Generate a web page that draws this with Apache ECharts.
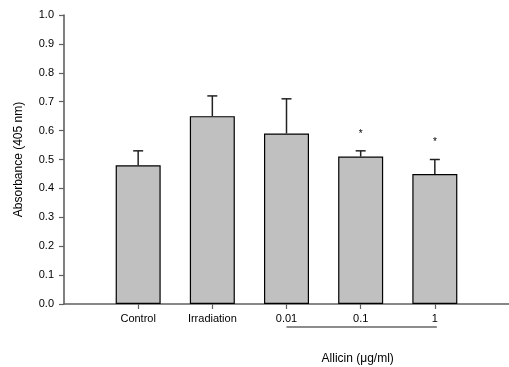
<!DOCTYPE html>
<html><head><meta charset="utf-8">
<script src="https://cdn.jsdelivr.net/npm/echarts@6/dist/echarts.min.js"></script>
<style>html,body{margin:0;padding:0;background:#fff}#c{width:509px;height:367px}</style>
</head><body><div id="c"></div>
<script>
const categories = ['Control', 'Irradiation', '0.01', '0.1', '1'];
const means = [0.48, 0.65, 0.59, 0.51, 0.45];
const upperErrors = [0.05, 0.07, 0.12, 0.02, 0.05];
const significance = ['', '', '', '*', '*'];
const yTicks = [0.0, 0.1, 0.2, 0.3, 0.4, 0.5, 0.6, 0.7, 0.8, 0.9, 1.0];
const groupFrom = '0.01', groupTo = '1';
const groupLabel = 'Allicin (\u03bcg/ml)';
const yTitle = 'Absorbance (405 nm)';

// padded category axis: empty slot at each end
const axisCats = [' ', ...categories, '  '];
const barData = axisCats.map((c, i) => (i === 0 || i === axisCats.length - 1) ? '-' : means[i - 1]);
const errData = categories.map((c, i) => [c, means[i], means[i] + upperErrors[i], significance[i]]);

const font = '"Liberation Sans", Arial, sans-serif';
const chart = echarts.init(document.getElementById('c'));
chart.setOption({
  animation: false,
  grid: { left: 64, right: 0, top: 15, bottom: 63, containLabel: false, outerBoundsMode: 'none' },
  xAxis: {
    type: 'category', data: axisCats, boundaryGap: false,
    axisLine: { lineStyle: { color: '#606060', width: 1.6 } },
    axisTick: { show: true, inside: false, length: 5, lineStyle: { color: '#606060', width: 1.2 },
      interval: (i, v) => v.trim() !== '' },
    axisLabel: { color: '#000', fontSize: 11, fontFamily: font, margin: 9, showMinLabel: true, showMaxLabel: true,
      interval: (i, v) => v.trim() !== '' },
    splitLine: { show: false }
  },
  yAxis: {
    type: 'value', min: 0, max: 1, interval: 0.1,
    name: yTitle, nameLocation: 'middle', nameGap: 39, nameRotate: 90,
    nameTextStyle: { color: '#000', fontSize: 12, fontFamily: font },
    axisLine: { show: true, lineStyle: { color: '#606060', width: 1.6 } },
    axisTick: { show: true, inside: false, length: 5, lineStyle: { color: '#606060', width: 1.2 } },
    axisLabel: { color: '#000', fontSize: 11, fontFamily: font, margin: 10,
      formatter: v => { const t = yTicks.find(x => Math.abs(x - v) < 1e-9); return (t === undefined ? v : t).toFixed(1); } },
    splitLine: { show: false }
  },
  series: [
    {
      type: 'bar', data: barData, barWidth: 45,
      itemStyle: { color: '#c0c0c0', borderColor: '#000', borderWidth: 1.2 }
    },
    {
      type: 'custom', data: errData, clip: false, z: 5,
      renderItem: function (params, api) {
        const x = api.value(0);
        const lo = api.coord([x, api.value(1)]);
        const hi = api.coord([x, api.value(2)]);
        const star = errData[params.dataIndex][3];
        const children = [
          { type: 'line', shape: { x1: lo[0], y1: lo[1], x2: hi[0], y2: hi[1] }, style: { stroke: '#222', lineWidth: 1.5 } },
          { type: 'line', shape: { x1: hi[0] - 5, y1: hi[1], x2: hi[0] + 5, y2: hi[1] }, style: { stroke: '#222', lineWidth: 1.5 } }
        ];
        if (star) {
          children.push({ type: 'text', x: hi[0], y: hi[1] - 22,
            style: { text: star, fill: '#000', fontSize: 10, fontFamily: font, align: 'center', verticalAlign: 'top' } });
        }
        return { type: 'group', children: children };
      }
    },
    {
      type: 'custom', data: [[groupFrom, groupTo]], clip: false, silent: true,
      renderItem: function (params, api) {
        const a = api.coord([groupFrom, 0]);
        const b = api.coord([groupTo, 0]);
        const mid = api.coord([categories[Math.round((categories.indexOf(groupFrom) + categories.indexOf(groupTo)) / 2)], 0]);
        return { type: 'group', children: [
          { type: 'line', shape: { x1: a[0], y1: a[1] + 23, x2: b[0] + 2, y2: b[1] + 23 }, style: { stroke: '#666', lineWidth: 1.5 } },
          { type: 'text', x: mid[0] - 3, y: a[1] + 55,
            style: { text: groupLabel, fill: '#000', fontSize: 12, fontFamily: font, align: 'center', verticalAlign: 'middle' } }
        ] };
      }
    }
  ]
});
</script></body></html>
